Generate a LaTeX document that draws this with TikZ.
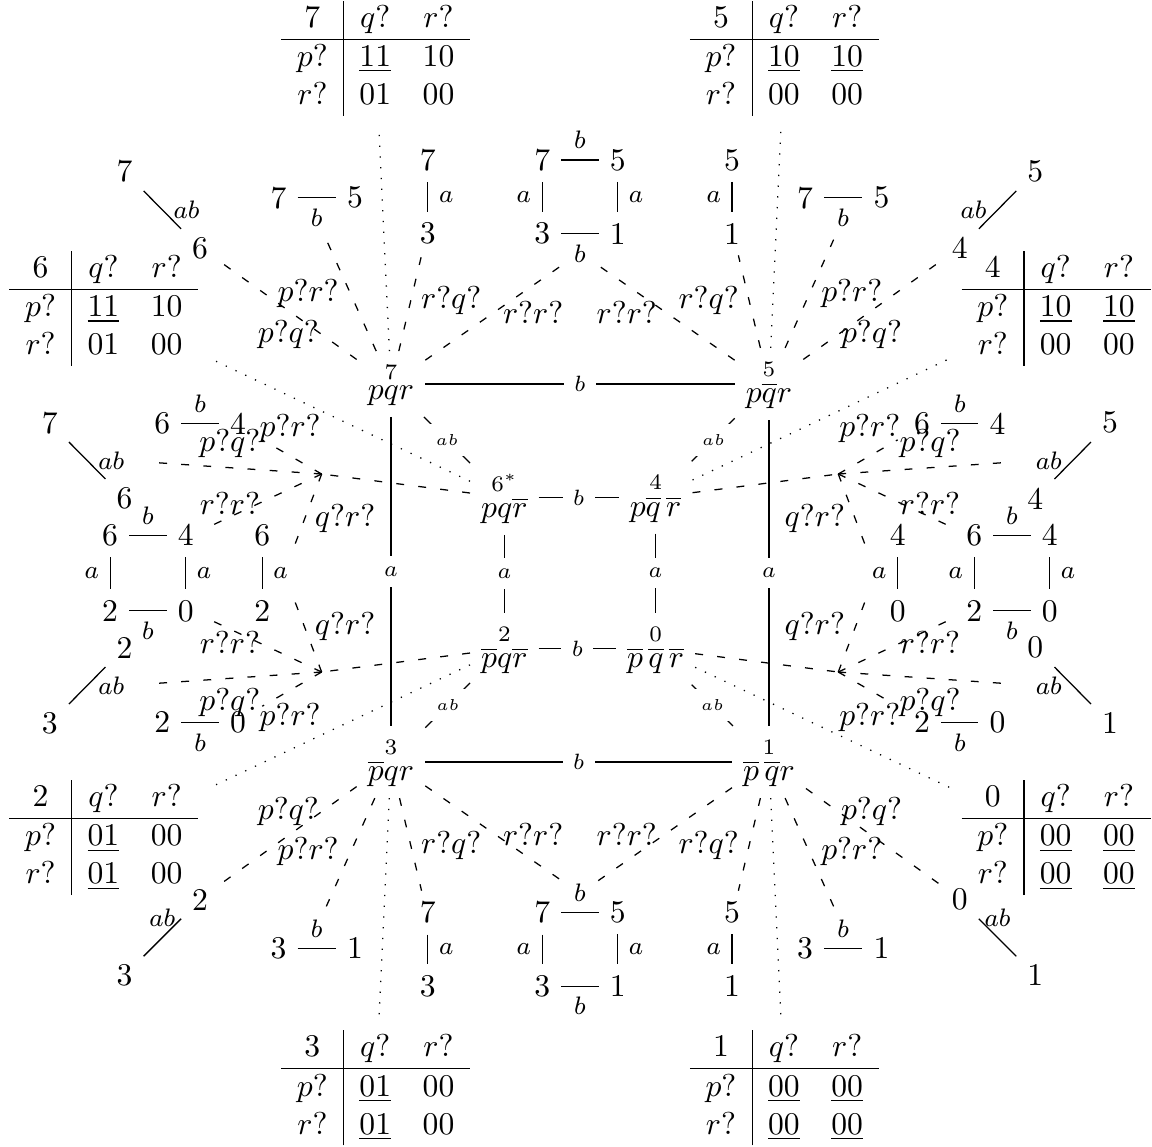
\documentclass[tikz,border=0pt]{standalone}
\usepackage{amsmath}
\newcommand{\qtab}[5]{$\begin{array}{c|cc}#1 & q? & r?\\\hline p? & #2 & #3\\ r? & #4 & #5\end{array}$}

\begin{document}
\begin{tikzpicture}[x=1cm,y=1cm,elab/.style={fill=white,font=\scriptsize},dlab/.style={fill=white,font=\tiny},glab/.style={font=\footnotesize},ask/.style={dash pattern=on 2.5pt off 4.5pt},link/.style={dash pattern=on 0.4pt off 3pt}]
\useasboundingbox (-6.444,-6.367) rectangle (6.356,6.367);
% worlds
\node (n7) at (-2.1,2.1) {$\overset{7}{pqr}$};
\node (n5) at (2.1,2.1) {$\overset{5}{p\overline{q}r}$};
\node (n3) at (-2.1,-2.1) {$\overset{3}{\overline{p}qr}$};
\node (n1) at (2.1,-2.1) {$\overset{1}{\overline{p}\,\overline{q}r}$};
\node (n6) at (-0.84,0.84) {$\overset{6^*}{pq\overline{r}}$};
\node (n4) at (0.84,0.84) {$\overset{4}{p\overline{q}\,\overline{r}}$};
\node (n2) at (-0.84,-0.84) {$\overset{2}{\overline{p}q\overline{r}}$};
\node (n0) at (0.84,-0.84) {$\overset{0}{\overline{p}\,\overline{q}\,\overline{r}}$};
\draw (n7) -- node[elab]{$b$} (n5);
\draw (n3) -- node[elab]{$b$} (n1);
\draw (n7) -- node[elab]{$a$} (n3);
\draw (n5) -- node[elab]{$a$} (n1);
\draw (n6) -- node[elab]{$b$} (n4);
\draw (n2) -- node[elab]{$b$} (n0);
\draw (n6) -- node[elab]{$a$} (n2);
\draw (n4) -- node[elab]{$a$} (n0);
\draw (n7) -- node[dlab]{$ab$} (n6);
\draw (n5) -- node[dlab]{$ab$} (n4);
\draw (n3) -- node[dlab]{$ab$} (n2);
\draw (n1) -- node[dlab]{$ab$} (n0);
% outcome tables
\node (tab7) at (-2.27,5.72) {\qtab{7}{\underline{11}}{10}{01}{00}};
\node (tab5) at (2.27,5.72) {\qtab{5}{\underline{10}}{\underline{10}}{00}{00}};
\node (tab6) at (-5.29,2.94) {\qtab{6}{\underline{11}}{10}{01}{00}};
\node (tab4) at (5.29,2.94) {\qtab{4}{\underline{10}}{\underline{10}}{00}{00}};
\node (tab2) at (-5.29,-2.94) {\qtab{2}{\underline{01}}{00}{\underline{01}}{00}};
\node (tab0) at (5.29,-2.94) {\qtab{0}{\underline{00}}{\underline{00}}{\underline{00}}{\underline{00}}};
\node (tab3) at (-2.27,-5.72) {\qtab{3}{\underline{01}}{00}{\underline{01}}{00}};
\node (tab1) at (2.27,-5.72) {\qtab{1}{\underline{00}}{\underline{00}}{\underline{00}}{\underline{00}}};
\draw[link] (n7) -- (tab7);
\draw[link] (n5) -- (tab5);
\draw[link] (n6) -- (tab6);
\draw[link] (n4) -- (tab4);
\draw[link] (n2) -- (tab2);
\draw[link] (n0) -- (tab0);
\draw[link] (n3) -- (tab3);
\draw[link] (n1) -- (tab1);
% updated models, top
\node (A7) at (-5.06,4.46) {7};
\node (A6) at (-4.22,3.61) {6};
\draw (A7) -- node[glab,right]{$ab$} (A6);
\node (B7) at (-3.35,4.17) {7};
\node (B5) at (-2.5,4.17) {5};
\draw (B7) -- node[glab,below]{$b$} (B5);
\node (C7) at (-1.69,4.59) {7};
\node (C3) at (-1.69,3.77) {3};
\draw (C7) -- node[glab,right]{$a$} (C3);
\node (D7) at (-0.42,4.59) {7};
\node (D5) at (0.42,4.59) {5};
\node (D3) at (-0.42,3.77) {3};
\node (D1) at (0.42,3.77) {1};
\draw (D7) -- node[glab,above]{$b$} (D5);
\draw (D3) -- node[glab,below]{$b$} (D1);
\draw (D7) -- node[glab,left]{$a$} (D3);
\draw (D5) -- node[glab,right]{$a$} (D1);
\node (E5) at (1.69,4.59) {5};
\node (E1) at (1.69,3.77) {1};
\draw (E5) -- node[glab,left]{$a$} (E1);
\node (F7) at (2.5,4.17) {7};
\node (F5) at (3.35,4.17) {5};
\draw (F7) -- node[glab,below]{$b$} (F5);
\node (G5) at (5.06,4.46) {5};
\node (G4) at (4.22,3.61) {4};
\draw (G5) -- node[glab,left]{$ab$} (G4);
% updated models, right
\node (H5) at (5.89,1.67) {5};
\node (H4) at (5.06,0.83) {4};
\draw (H5) -- node[glab,left]{$ab$} (H4);
\node (I6) at (3.8,1.66) {6};
\node (I4) at (4.64,1.66) {4};
\draw (I6) -- node[glab,above]{$b$} (I4);
\node (J6) at (4.38,0.42) {6};
\node (J4) at (5.22,0.42) {4};
\node (J2) at (4.38,-0.42) {2};
\node (J0) at (5.22,-0.42) {0};
\draw (J6) -- node[glab,above]{$b$} (J4);
\draw (J2) -- node[glab,below]{$b$} (J0);
\draw (J6) -- node[glab,left]{$a$} (J2);
\draw (J4) -- node[glab,right]{$a$} (J0);
\node (K4) at (3.53,0.42) {4};
\node (K0) at (3.53,-0.42) {0};
\draw (K4) -- node[glab,left]{$a$} (K0);
\node (L2) at (3.8,-1.66) {2};
\node (L0) at (4.64,-1.66) {0};
\draw (L2) -- node[glab,below]{$b$} (L0);
\node (M0) at (5.06,-0.83) {0};
\node (M1) at (5.89,-1.67) {1};
\draw (M0) -- node[glab,left]{$ab$} (M1);
% updated models, bottom
\node (N0) at (4.22,-3.63) {0};
\node (N1) at (5.06,-4.47) {1};
\draw (N0) -- node[glab,above]{$ab$} (N1);
\node (O3) at (2.5,-4.17) {3};
\node (O1) at (3.35,-4.17) {1};
\draw (O3) -- node[glab,above]{$b$} (O1);
\node (P5) at (1.69,-3.77) {5};
\node (P1) at (1.69,-4.59) {1};
\draw (P5) -- node[glab,left]{$a$} (P1);
\node (Q7) at (-0.42,-3.77) {7};
\node (Q5) at (0.42,-3.77) {5};
\node (Q3) at (-0.42,-4.59) {3};
\node (Q1) at (0.42,-4.59) {1};
\draw (Q7) -- node[glab,above]{$b$} (Q5);
\draw (Q3) -- node[glab,below]{$b$} (Q1);
\draw (Q7) -- node[glab,left]{$a$} (Q3);
\draw (Q5) -- node[glab,right]{$a$} (Q1);
\node (R7) at (-1.69,-3.77) {7};
\node (R3) at (-1.69,-4.59) {3};
\draw (R7) -- node[glab,right]{$a$} (R3);
\node (S3) at (-3.35,-4.17) {3};
\node (S1) at (-2.5,-4.17) {1};
\draw (S3) -- node[glab,above]{$b$} (S1);
\node (T2) at (-4.22,-3.63) {2};
\node (T3) at (-5.06,-4.47) {3};
\draw (T3) -- node[glab,above]{$ab$} (T2);
% updated models, left
\node (U2) at (-5.06,-0.83) {2};
\node (U3) at (-5.89,-1.67) {3};
\draw (U2) -- node[glab,right]{$ab$} (U3);
\node (V2) at (-4.64,-1.66) {2};
\node (V0) at (-3.8,-1.66) {0};
\draw (V2) -- node[glab,below]{$b$} (V0);
\node (W6) at (-5.22,0.42) {6};
\node (W4) at (-4.38,0.42) {4};
\node (W2) at (-5.22,-0.42) {2};
\node (W0) at (-4.38,-0.42) {0};
\draw (W6) -- node[glab,above]{$b$} (W4);
\draw (W2) -- node[glab,below]{$b$} (W0);
\draw (W6) -- node[glab,left]{$a$} (W2);
\draw (W4) -- node[glab,right]{$a$} (W0);
\node (X6) at (-3.53,0.42) {6};
\node (X2) at (-3.53,-0.42) {2};
\draw (X6) -- node[glab,right]{$a$} (X2);
\node (Y6) at (-4.64,1.66) {6};
\node (Y4) at (-3.8,1.66) {4};
\draw (Y6) -- node[glab,above]{$b$} (Y4);
\node (Z7) at (-5.89,1.67) {7};
\node (Z6) at (-5.06,0.83) {6};
\draw (Z7) -- node[glab,right]{$ab$} (Z6);
% questions from 7, 5, 3, 1
\coordinate (e7pq) at (-4.0,3.46);
\coordinate (e7pr) at (-2.83,3.73);
\coordinate (e7rq) at (-1.76,3.53);
\coordinate (e7rr) at (-0.2,3.42);
\draw[ask] (n7) -- (e7pq);
\draw[ask] (n7) -- (e7pr);
\draw[ask] (n7) -- (e7rq);
\draw[ask] (n7) -- (e7rr);
\node (l7pq) at (-3.24,2.65) {$p?q?$};
\node (l7pr) at (-3.02,3.1) {$p?r?$};
\node (l7rq) at (-1.43,3.03) {$r?q?$};
\node (l7rr) at (-0.52,2.9) {$r?r?$};
\coordinate (e5pq) at (4.0,3.46);
\coordinate (e5pr) at (2.83,3.73);
\coordinate (e5rq) at (1.76,3.53);
\coordinate (e5rr) at (0.2,3.42);
\draw[ask] (n5) -- (e5pq);
\draw[ask] (n5) -- (e5pr);
\draw[ask] (n5) -- (e5rq);
\draw[ask] (n5) -- (e5rr);
\node (l5pq) at (3.24,2.65) {$p?q?$};
\node (l5pr) at (3.02,3.1) {$p?r?$};
\node (l5rq) at (1.43,3.03) {$r?q?$};
\node (l5rr) at (0.52,2.9) {$r?r?$};
\coordinate (e3pq) at (-4.0,-3.46);
\coordinate (e3pr) at (-2.83,-3.73);
\coordinate (e3rq) at (-1.76,-3.53);
\coordinate (e3rr) at (-0.2,-3.42);
\draw[ask] (n3) -- (e3pq);
\draw[ask] (n3) -- (e3pr);
\draw[ask] (n3) -- (e3rq);
\draw[ask] (n3) -- (e3rr);
\node (l3pq) at (-3.24,-2.65) {$p?q?$};
\node (l3pr) at (-3.02,-3.1) {$p?r?$};
\node (l3rq) at (-1.43,-3.03) {$r?q?$};
\node (l3rr) at (-0.52,-2.9) {$r?r?$};
\coordinate (e1pq) at (4.0,-3.46);
\coordinate (e1pr) at (2.83,-3.73);
\coordinate (e1rq) at (1.76,-3.53);
\coordinate (e1rr) at (0.2,-3.42);
\draw[ask] (n1) -- (e1pq);
\draw[ask] (n1) -- (e1pr);
\draw[ask] (n1) -- (e1rq);
\draw[ask] (n1) -- (e1rr);
\node (l1pq) at (3.24,-2.65) {$p?q?$};
\node (l1pr) at (3.02,-3.1) {$p?r?$};
\node (l1rq) at (1.43,-3.03) {$r?q?$};
\node (l1rr) at (0.52,-2.9) {$r?r?$};
% questions from 6, 2, 4, 0
\coordinate (f6) at (-2.87,1.1);
\coordinate (e6pq) at (-4.76,1.23);
\coordinate (e6pr) at (-3.53,1.48);
\coordinate (e6rr) at (-4.13,0.51);
\coordinate (e6qr) at (-3.2,0.23);
\draw[ask] (n6) -- (f6);
\draw[ask] (f6) -- (e6pq);
\draw[ask] (f6) -- (e6pr);
\draw[ask] (f6) -- (e6rr);
\draw[ask] (f6) -- (e6qr);
\node (l6pq) at (-3.89,1.44) {$p?q?$};
\node (l6pr) at (-3.22,1.61) {$p?r?$};
\node (l6rr) at (-3.89,0.77) {$r?r?$};
\node (l6qr) at (-2.61,0.6) {$q?r?$};
\coordinate (f2) at (-2.87,-1.1);
\coordinate (e2pq) at (-4.76,-1.23);
\coordinate (e2pr) at (-3.53,-1.48);
\coordinate (e2rr) at (-4.13,-0.51);
\coordinate (e2qr) at (-3.2,-0.23);
\draw[ask] (n2) -- (f2);
\draw[ask] (f2) -- (e2pq);
\draw[ask] (f2) -- (e2pr);
\draw[ask] (f2) -- (e2rr);
\draw[ask] (f2) -- (e2qr);
\node (l2pq) at (-3.89,-1.44) {$p?q?$};
\node (l2pr) at (-3.22,-1.61) {$p?r?$};
\node (l2rr) at (-3.89,-0.77) {$r?r?$};
\node (l2qr) at (-2.61,-0.6) {$q?r?$};
\coordinate (f4) at (2.87,1.1);
\coordinate (e4pq) at (4.76,1.23);
\coordinate (e4pr) at (3.53,1.48);
\coordinate (e4rr) at (4.13,0.51);
\coordinate (e4qr) at (3.2,0.23);
\draw[ask] (n4) -- (f4);
\draw[ask] (f4) -- (e4pq);
\draw[ask] (f4) -- (e4pr);
\draw[ask] (f4) -- (e4rr);
\draw[ask] (f4) -- (e4qr);
\node (l4pq) at (3.89,1.44) {$p?q?$};
\node (l4pr) at (3.22,1.61) {$p?r?$};
\node (l4rr) at (3.89,0.77) {$r?r?$};
\node (l4qr) at (2.61,0.6) {$q?r?$};
\coordinate (f0) at (2.87,-1.1);
\coordinate (e0pq) at (4.76,-1.23);
\coordinate (e0pr) at (3.53,-1.48);
\coordinate (e0rr) at (4.13,-0.51);
\coordinate (e0qr) at (3.2,-0.23);
\draw[ask] (n0) -- (f0);
\draw[ask] (f0) -- (e0pq);
\draw[ask] (f0) -- (e0pr);
\draw[ask] (f0) -- (e0rr);
\draw[ask] (f0) -- (e0qr);
\node (l0pq) at (3.89,-1.44) {$p?q?$};
\node (l0pr) at (3.22,-1.61) {$p?r?$};
\node (l0rr) at (3.89,-0.77) {$r?r?$};
\node (l0qr) at (2.61,-0.6) {$q?r?$};
\end{tikzpicture}
\end{document}
